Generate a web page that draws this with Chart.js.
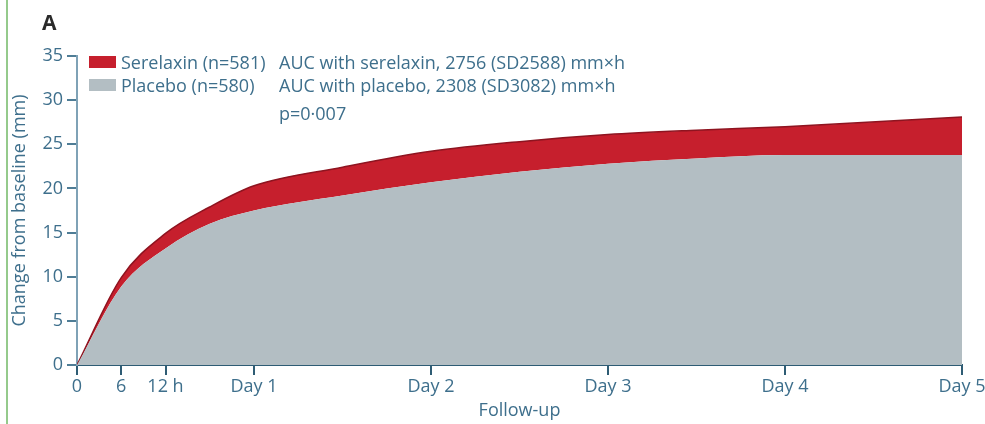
<!DOCTYPE html>
<html>
<head>
<meta charset="utf-8">
<script src="https://cdn.jsdelivr.net/npm/chart.js@4/dist/chart.umd.min.js"></script>
<style>
  html, body { margin: 0; padding: 0; background: #fff; }
  #wrap { position: relative; width: 985px; height: 424px; overflow: hidden; }
  canvas { position: absolute; left: 0; top: 0; }
  .txt { position: absolute; font-family: "Open Sans", sans-serif; font-size: 18px; color: #3e6f8c; white-space: nowrap; line-height: 20px; }
  .box { position: absolute; width: 27px; height: 12px; }
  #edge { position: absolute; left: 6px; top: 0; width: 2px; height: 424px; background: #95ca8c; }
  #panel { position: absolute; left: 42px; top: 10px; font-family: "Open Sans", sans-serif; font-weight: 700; font-size: 21px; color: #2a2a2a; line-height: 24px; }
</style>
</head>
<body>
<div id="wrap">
  <canvas id="c" width="985" height="424"></canvas>
  <div id="edge"></div>
  <div id="panel">A</div>
  <div class="box" style="left:89px; top:56px; background:#c61f2d;"></div>
  <div class="box" style="left:89px; top:79px; background:#b3bec3;"></div>
  <div class="txt" id="l1" style="left:121px; top:52px;"></div>
  <div class="txt" id="l2" style="left:121px; top:75px;"></div>
  <div class="txt" id="a1" style="left:279px; top:52px;"></div>
  <div class="txt" id="a2" style="left:279px; top:75px;"></div>
  <div class="txt" id="a3" style="left:279px; top:103px;"></div>
</div>
<script>
// ---- data ----
const hours      = [0, 6, 12, 18, 24, 36, 48, 60, 72, 84, 96, 120];
const serelaxin  = [0, 9.9, 14.9, 17.9, 20.3, 22.4, 24.2, 25.3, 26.1, 26.6, 27.0, 28.1];
const placebo    = [0, 8.9, 13.2, 16.0, 17.5, 19.2, 20.7, 21.9, 22.8, 23.4, 23.8, 23.8];
const tickHours  = [0, 6, 12, 24, 48, 72, 96, 120];
const tickLabels = ["0", "6", "12 h", "Day 1", "Day 2", "Day 3", "Day 4", "Day 5"];
const seriesNames = ["Serelaxin (n=581)", "Placebo (n=580)"];
const notes = ["AUC with serelaxin, 2756 (SD2588) mm×h", "AUC with placebo, 2308 (SD3082) mm×h", "p=0·007"];
const yTitle = "Change from baseline (mm)";
const xTitle = "Follow-up";

document.getElementById('l1').textContent = seriesNames[0];
document.getElementById('l2').textContent = seriesNames[1];
document.getElementById('a1').textContent = notes[0];
document.getElementById('a2').textContent = notes[1];
document.getElementById('a3').textContent = notes[2];

const txtColor = '#3e6f8c';
const font = { family: '"Open Sans", sans-serif', size: 18 };

new Chart(document.getElementById('c'), {
  type: 'line',
  data: {
    datasets: [
      {
        label: seriesNames[1],
        data: hours.map((h, i) => ({ x: h, y: placebo[i] })),
        borderWidth: 0,
        borderColor: '#b3bec3',
        backgroundColor: '#b3bec3',
        fill: 'origin',
        pointRadius: 0,
        cubicInterpolationMode: 'monotone'
      },
      {
        label: seriesNames[0],
        data: hours.map((h, i) => ({ x: h, y: serelaxin[i] })),
        borderWidth: 1.5,
        borderColor: '#8e1420',
        backgroundColor: '#c61f2d',
        fill: '-1',
        pointRadius: 0,
        cubicInterpolationMode: 'monotone'
      }
    ]
  },
  options: {
    responsive: false,
    animation: false,
    layout: { padding: { top: 56, right: 23, left: 0, bottom: 0 } },
    plugins: { legend: { display: false }, tooltip: { enabled: false } },
    scales: {
      x: {
        type: 'linear',
        min: 0,
        max: 120,
        afterBuildTicks: (axis) => { axis.ticks = tickHours.map(v => ({ value: v })); },
        afterFit: (axis) => { axis.height = 59; axis.paddingLeft = 0; axis.paddingRight = 0; },
        ticks: {
          autoSkip: false,
          maxRotation: 0,
          padding: 1,
          color: txtColor,
          font: font,
          callback: (v) => { const i = tickHours.indexOf(v); return i >= 0 ? tickLabels[i] : ''; }
        },
        grid: { drawOnChartArea: false, tickLength: 10, color: '#2e5c74', lineWidth: 2 },
        border: { color: '#2e5c74', width: 2 },
        title: { display: true, text: xTitle, color: txtColor, font: font, padding: { top: 0, bottom: 2 } }
      },
      y: {
        min: 0,
        max: 35,
        afterFit: (axis) => { axis.width = 77; },
        ticks: { stepSize: 5, padding: 4, color: txtColor, font: font },
        grid: { drawOnChartArea: false, tickLength: 10, color: '#4f7d96', lineWidth: 2 },
        border: { color: '#7fa2b6', width: 2 },
        title: { display: true, text: yTitle, color: txtColor, font: font, padding: { top: 9, bottom: 0 } }
      }
    }
  }
});
</script>
</body>
</html>
